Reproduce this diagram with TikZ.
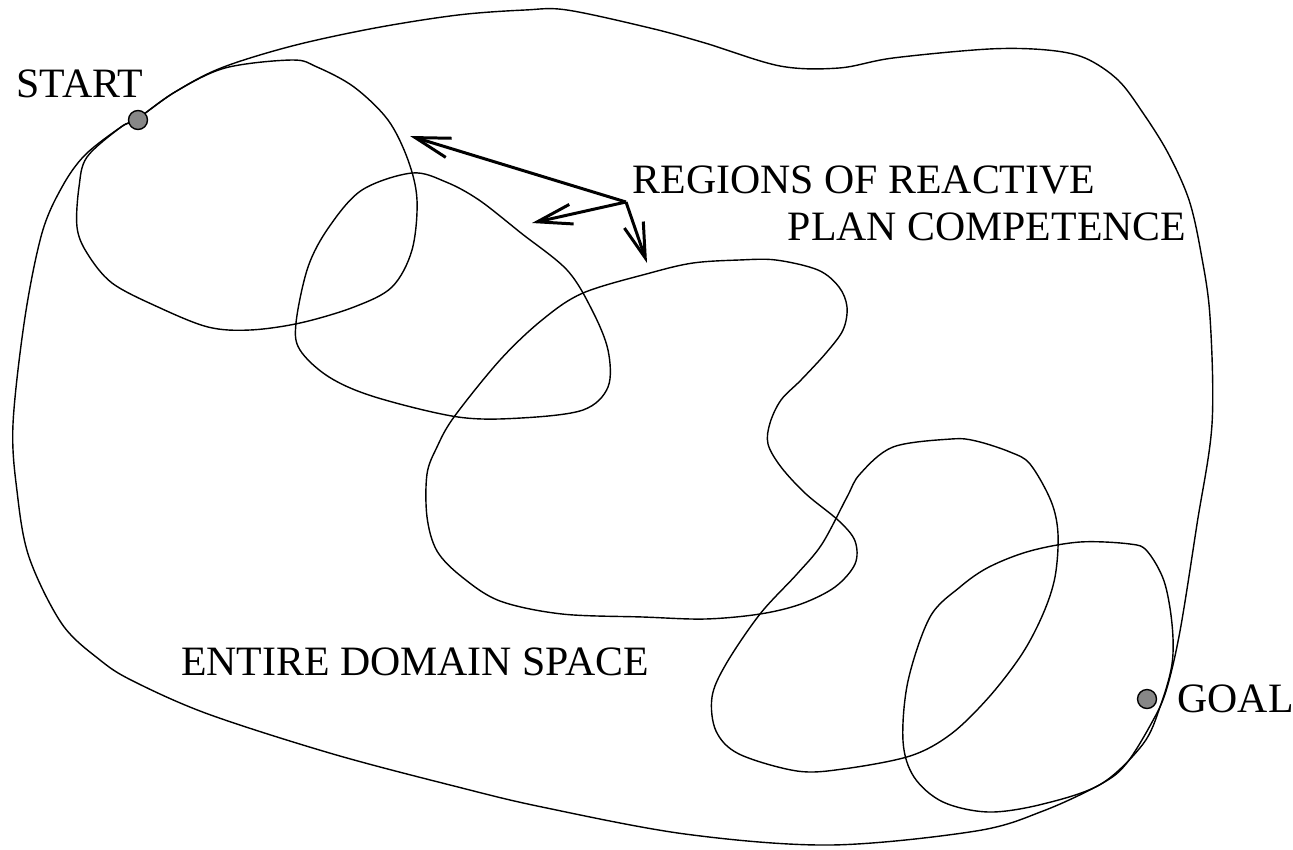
\documentclass[tikz,border=0pt]{standalone}
\usepackage{fontspec}
\setmainfont{Liberation Serif}
\usepackage{tikz}
\usetikzlibrary{
	arrows.meta,
	positioning
}

\begin{document}
\begin{tikzpicture}[
		x=0.02cm, y=-0.02cm,
		region/.style={draw, line width=0.8pt, smooth cycle, tension=0.55},
		dot/.style={draw, circle, line width=0.8pt, fill={rgb,255:red,135;green,135;blue,135}, minimum size=0.38cm, inner sep=0pt},
		tag/.style={font=\fontsize{23.8}{28}\selectfont, inner sep=0pt},
		pointer/.style={line width=1.7pt, -{Straight Barb[length=0.7cm, width=0.4cm]}}
		]
		\useasboundingbox (0,0) rectangle (1293,849);
		
		% =========================
		% Entire domain space
		% =========================
		\draw[region] plot coordinates {
			(137,119) (175,92) (221,68) (292,46) (375,28) (458,15) (525,10) (567,10)
			(650,28) (705,43) (780,66) (839,68) (893,58) (989,49) (1047,50) (1085,58)
			(1118,80) (1143,113) (1168,153) (1189,200) (1201,253) (1210,317) (1212,424)
			(1197,524) (1180,631) (1166,691) (1151,724) (1126,764) (1101,784) (1043,811)
			(976,831) (830,845) (685,834) (542,807) (458,787) (333,754) (208,714)
			(133,681) (100,660) (62,624) (29,557) (17,491) (13,424) (25,317) (42,233)
			(62,187) (85,155) (121,127)};
		
		% =========================
		% Regions of competence
		% =========================
		% around the start
		\draw[region] plot coordinates {
			(292,60) (317,67) (354,87) (388,120) (408,160) (417,200) (412,250) (392,287)
			(354,307) (300,323) (250,330) (208,327) (158,307) (112,283) (87,253) (77,227)
			(79,187) (87,157) (121,127) (137,119) (175,92) (225,68)};
		
		% second one
		\draw[region] plot coordinates {
			(412,173) (446,182) (479,200) (521,233) (567,270) (592,310) (608,350) (608,387)
			(583,410) (521,418) (458,417) (375,397) (329,377) (300,350) (296,323) (308,267)
			(329,227) (362,190)};
		
		% the big middle one
		\draw[region] plot coordinates {
			(650,273) (693,263) (739,260) (776,260) (818,270) (839,287) (847,307) (843,330)
			(826,353) (801,380) (781,400) (770,423) (768,444) (781,467) (806,494) (839,521)
			(855,541) (855,564) (835,587) (801,604) (760,614) (705,619) (643,617) (562,614)
			(500,601) (462,577) (437,551) (427,517) (427,474) (437,447) (454,417) (500,360)
			(542,320) (583,293)};
		
		% lower right
		\draw[region] plot coordinates {
			(951,439) (976,441) (1010,452) (1030,464) (1051,501) (1058,534) (1055,577)
			(1043,614) (1022,654) (989,697) (951,734) (910,756) (843,769) (797,771)
			(739,754) (716,731) (712,697) (726,664) (760,614) (797,574) (822,544)
			(847,497) (860,474) (893,447)};
		
		% around the goal
		\draw[region] plot coordinates {
			(1080,542) (1130,544) (1147,551) (1164,581) (1172,624) (1172,664) (1160,707)
			(1143,744) (1101,784) (1043,804) (989,812) (943,802) (914,777) (903,741)
			(908,681) (930,617) (960,587) (989,567) (1030,551)};
		
		% =========================
		% Start and goal
		% =========================
		\node[dot] (start) at (138,120) {};
		\node[tag] (startlabel) at (80,84) {START};
		\node[dot] (goal) at (1147,699) {};
		\node[tag, right=0.4cm of goal] (goallabel) {GOAL};
		
		% =========================
		% Labels and pointers
		% =========================
		\node[tag] (regions) at (864,180) {REGIONS OF REACTIVE};
		\node[tag] (competence) at (987,227) {PLAN COMPETENCE};
		\node[tag] (domain) at (415,662) {ENTIRE DOMAIN SPACE};
		
		\coordinate (hub) at (626,202);
		\coordinate (tipA) at (410,136);
		\coordinate (tipB) at (532,223);
		\coordinate (tipC) at (647,263);
		\draw[pointer] (hub) -- (tipA);
		\draw[pointer] (hub) -- (tipB);
		\draw[pointer] (hub) -- (tipC);
		
	\end{tikzpicture}
\end{document}
